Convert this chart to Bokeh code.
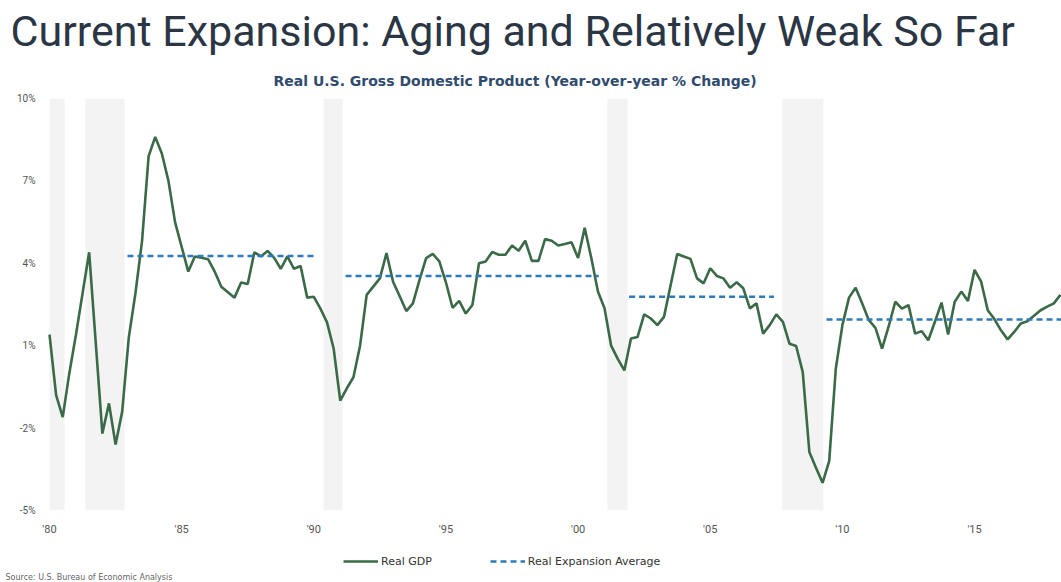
from bokeh.plotting import figure
from bokeh.layouts import column
from bokeh.models import Range1d, FixedTicker, Legend, LegendItem, ColumnDataSource, Title
from bokeh.embed import file_html
from bokeh.resources import INLINE

# ---------------- data ----------------
# Real GDP, year-over-year % change, quarterly from 1980 Q1
gdp_yoy = [
    1.4, -0.8, -1.6, 0.0,      # 1980
    1.4, 2.9, 4.4, 1.1,        # 1981
    -2.2, -1.1, -2.6, -1.4,    # 1982
    1.3, 2.9, 4.8, 7.9,        # 1983
    8.6, 8.0, 7.0, 5.5,        # 1984
    4.6, 3.7, 4.25, 4.2,       # 1985
    4.15, 3.7, 3.15, 2.95,     # 1986
    2.75, 3.3, 3.25, 4.4,      # 1987
    4.25, 4.45, 4.2, 3.8,      # 1988
    4.25, 3.8, 3.9, 2.75,      # 1989
    2.78, 2.35, 1.85, 0.9,     # 1990
    -1.0, -0.55, -0.15, 1.0,   # 1991
    2.85, 3.15, 3.45, 4.37,    # 1992
    3.33, 2.8, 2.26, 2.54,     # 1993
    3.4, 4.19, 4.34, 4.07,     # 1994
    3.3, 2.38, 2.63, 2.17,     # 1995
    2.48, 4.0, 4.07, 4.41,     # 1996
    4.31, 4.31, 4.65, 4.46,    # 1997
    4.82, 4.09, 4.09, 4.88,    # 1998
    4.82, 4.65, 4.7, 4.77,     # 1999
    4.19, 5.29, 4.19, 2.97,    # 2000
    2.36, 1.0, 0.52, 0.1,      # 2001
    1.26, 1.32, 2.14, 1.99,    # 2002
    1.75, 2.05, 3.2, 4.34,     # 2003
    4.25, 4.16, 3.45, 3.27,    # 2004
    3.82, 3.54, 3.45, 3.11,    # 2005
    3.31, 3.09, 2.36, 2.54,    # 2006
    1.44, 1.75, 2.14, 1.87,    # 2007
    1.07, 0.99, 0.04, -2.87,   # 2008
    -3.44, -3.99, -3.2, 0.16,  # 2009
    1.75, 2.75, 3.11, 2.54,    # 2010
    1.93, 1.65, 0.89, 1.7,     # 2011
    2.6, 2.35, 2.48, 1.44,     # 2012
    1.53, 1.2, 1.87, 2.57,     # 2013
    1.41, 2.6, 2.97, 2.63,     # 2014
    3.76, 3.33, 2.29, 1.97,    # 2015
    1.56, 1.23, 1.5, 1.81,     # 2016
    1.89, 2.09, 2.29, 2.42,    # 2017
    2.54, 2.85,                # 2018
]
quarter_dates = [1980 + i * 0.25 for i in range(len(gdp_yoy))]

# Expansion averages
exp_start = [1982.95, 1991.2, 2001.93, 2009.4]
exp_end = [1990.13, 2000.78, 2007.41, 2018.29]
exp_avg = [4.27, 3.54, 2.78, 1.95]

# Recessions (shaded)
rec_start = [1980.0, 1981.36, 1990.37, 2001.11, 2007.73]
rec_end = [1980.57, 1982.84, 1991.09, 2001.87, 2009.28]

# Ticks
x_ticks = [1980, 1985, 1990, 1995, 2000, 2005, 2010, 2015]
x_tick_labels = ["'80", "'85", "'90", "'95", "'00", "'05", "'10", "'15"]
y_ticks = [-5, -2, 1, 4, 7, 10]
y_tick_labels = ["-5%", "-2%", "1%", "4%", "7%", "10%"]

series_names = ["Real GDP", "Real Expansion Average"]
title_text = "Current Expansion: Aging and Relatively Weak So Far"
subtitle_text = "Real U.S. Gross Domestic Product (Year-over-year % Change)"
source_text = "Source: U.S. Bureau of Economic Analysis"

FONT = "Roboto"
FONT2 = "DejaVu Sans"
GDP_COLOR = "#3a6a47"
AVG_COLOR = "#2f7ab8"
REC_COLOR = "#f3f3f3"

# ---------------- main figure ----------------
p = figure(
    frame_width=1014, frame_height=412,
    x_range=Range1d(1979.924, 2018.29), y_range=Range1d(-5, 10),
    output_backend="svg", toolbar_location=None,
    min_border_left=47, min_border_right=0, min_border_top=98, min_border_bottom=30,
    outline_line_color=None, background_fill_color="white", border_fill_color="white",
)
p.xgrid.visible = False
p.ygrid.visible = False

rec_src = ColumnDataSource(dict(left=rec_start, right=rec_end,
                                bottom=[y_ticks[0]] * len(rec_start),
                                top=[y_ticks[-1]] * len(rec_start)))
p.quad(left="left", right="right", bottom="bottom", top="top", source=rec_src,
       fill_color=REC_COLOR, line_color=None)

p.line(quarter_dates, gdp_yoy, line_color=GDP_COLOR, line_width=2.6)
p.segment(x0=exp_start, x1=exp_end, y0=exp_avg, y1=exp_avg,
          line_color=AVG_COLOR, line_width=2.5, line_dash="6 4")

for ax in (p.xaxis[0], p.yaxis[0]):
    ax.axis_line_color = None
    ax.major_tick_line_color = None
    ax.minor_tick_line_color = None
    ax.major_tick_out = 0
    ax.major_tick_in = 0
    ax.major_label_text_color = "#555555"
    ax.major_label_text_font = FONT

p.xaxis.ticker = FixedTicker(ticks=x_ticks)
p.xaxis.major_label_overrides = dict(zip(x_ticks, x_tick_labels))
p.xaxis.major_label_text_font_size = "11px"
p.xaxis.major_label_standoff = 12

p.yaxis.ticker = FixedTicker(ticks=y_ticks)
p.yaxis.major_label_overrides = dict(zip(y_ticks, y_tick_labels))
p.yaxis.major_label_text_font_size = "10px"
p.yaxis.major_label_standoff = 12

# titles above (first added = closest to the plot)
p.add_layout(Title(text=subtitle_text, align="left", offset=226, standoff=19,
                   vertical_align="bottom",
                   text_font=FONT2, text_font_size="14px", text_font_style="bold",
                   text_color="#2f4b6e"), "above")
p.add_layout(Title(text=title_text, align="left", offset=-37, standoff=8,
                   vertical_align="top",
                   text_font=FONT, text_font_size="43px", text_font_style="normal",
                   text_color="#2b3645"), "above")

# ---------------- legend + source strip ----------------
# its frame is aligned with the main frame (left border 47px)
q = figure(
    width=1061, height=42,
    x_range=Range1d(0, 1), y_range=Range1d(0, 1),
    x_axis_type=None, y_axis_type=None,
    output_backend="svg", toolbar_location=None,
    min_border_left=47, min_border_right=0, min_border_top=0, min_border_bottom=0,
    outline_line_color=None, background_fill_color="white", border_fill_color="white",
)
q.xgrid.visible = False
q.ygrid.visible = False
# same series drawn here only to feed the legend (they fall outside this strip's ranges)
leg_gdp = q.line(quarter_dates, gdp_yoy, line_color=GDP_COLOR, line_width=2.6)
leg_avg = q.segment(x0=exp_start, x1=exp_end, y0=exp_avg, y1=exp_avg,
                    line_color=AVG_COLOR, line_width=2.5, line_dash="6 4")

legend = Legend(items=[LegendItem(label=series_names[0], renderers=[leg_gdp]),
                       LegendItem(label=series_names[1], renderers=[leg_avg])],
                orientation="horizontal", location=(296, 1),
                glyph_width=35, glyph_height=14, label_standoff=3, spacing=58,
                padding=1, margin=0, background_fill_alpha=0, border_line_color=None,
                label_text_font=FONT2, label_text_font_size="11px",
                label_text_color="#333333")
q.add_layout(legend, "center")

q.add_layout(Title(text=source_text, align="left", offset=-42, standoff=2,
                   vertical_align="bottom",
                   text_font=FONT2, text_font_size="8px", text_font_style="normal",
                   text_color="#666666"), "below")

open("out.html", "w").write(file_html(column(p, q, spacing=0), INLINE))
